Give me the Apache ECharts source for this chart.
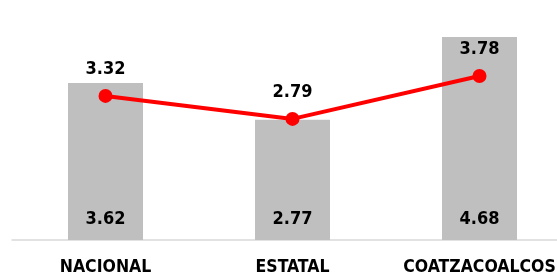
<!DOCTYPE html>
<html>
<head>
<meta charset="utf-8">
<script src="https://cdn.jsdelivr.net/npm/echarts@6/dist/echarts.min.js"></script>
<style>
  html, body { margin: 0; padding: 0; background: #fff; }
  #chart { width: 557px; height: 276px; }
</style>
</head>
<body>
<div id="chart"></div>
<script>
const categories = ['NACIONAL', 'ESTATAL', 'COATZACOALCOS']
const barValues = [3.62, 2.77, 4.68]
const lineValues = [3.32, 2.79, 3.78]

const font = '"DejaVu Sans Condensed", "Liberation Sans Narrow", sans-serif'

const chart = echarts.init(document.getElementById('chart'))
chart.setOption({
  animation: false,
  grid: { left: 12, width: 561, top: 23, bottom: 36, outerBoundsMode: 'none', containLabel: false },
  xAxis: {
    type: 'category',
    data: categories,
    axisLine: { lineStyle: { color: '#d9d9d9', width: 1.5 } },
    axisTick: { show: false },
    axisLabel: {
      interval: 0,
      color: '#000',
      fontFamily: font,
      fontWeight: 'bold',
      fontSize: 17.5,
      margin: 18
    }
  },
  yAxis: {
    type: 'value',
    min: 0,
    max: 5,
    show: false,
    splitLine: { show: false }
  },
  series: [
    {
      type: 'bar',
      data: barValues,
      barWidth: 75,
      itemStyle: { color: '#bfbfbf' },
      label: {
        show: true,
        position: 'insideBottom',
        distance: 12,
        color: '#000',
        fontFamily: font,
        fontWeight: 'bold',
        fontSize: 18,
        formatter: p => p.value.toFixed(2)
      }
    },
    {
      type: 'line',
      data: lineValues,
      z: 5,
      symbol: 'circle',
      symbolSize: 14,
      lineStyle: { color: '#ff0000', width: 4 },
      itemStyle: { color: '#ff0000' },
      label: {
        show: true,
        position: 'top',
        distance: 11,
        color: '#000',
        fontFamily: font,
        fontWeight: 'bold',
        fontSize: 18,
        formatter: p => p.value.toFixed(2)
      }
    }
  ]
})
</script>
</body>
</html>
